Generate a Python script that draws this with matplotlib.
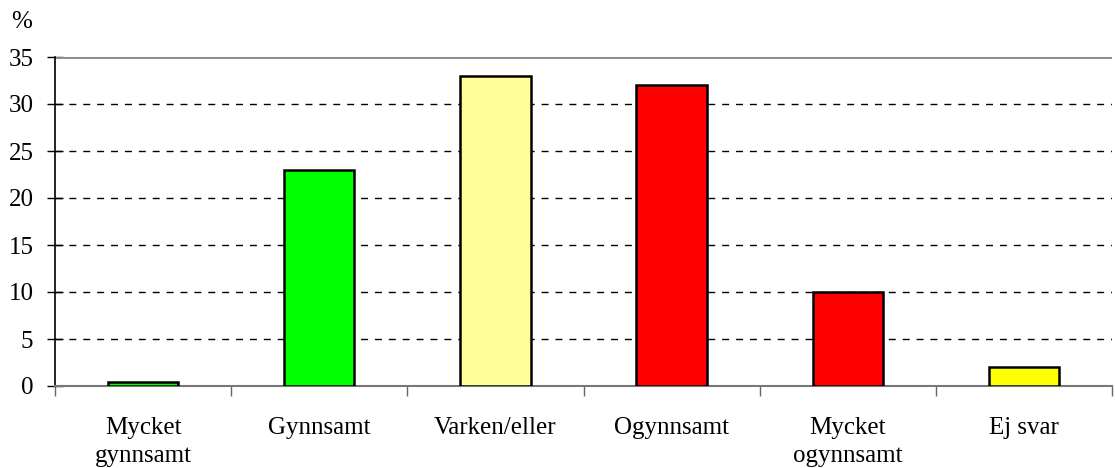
import matplotlib
matplotlib.use("Agg")
import matplotlib.pyplot as plt
import numpy as np

categories = ["Mycket\ngynnsamt", "Gynnsamt", "Varken/eller", "Ogynnsamt", "Mycket\nogynnsamt", "Ej svar"]
values = [0.4, 23, 33, 32, 10, 2]
colors = ["#00ff00", "#00ff00", "#ffff99", "#ff0000", "#ff0000", "#ffff00"]
yticks = [0, 5, 10, 15, 20, 25, 30, 35]

plt.rcParams['font.family'] = ['Liberation Serif', 'DejaVu Serif']

fig = plt.figure(figsize=(11.15, 4.68), dpi=100)
ax = fig.add_axes([55/1115, 1 - 386/468, (1112-55)/1115, (386-57)/468])

x = np.arange(len(categories))
ax.bar(x, values, width=0.4, color=colors, edgecolor="black", linewidth=1.8, zorder=3)

ax.set_xlim(-0.5, len(categories) - 0.5)
ax.set_ylim(0, 35)
ax.set_yticks(yticks)
ax.set_yticklabels([str(v) for v in yticks], fontsize=18)
for v in yticks[1:-1]:
    ax.axhline(v, color="black", linestyle=(0, (5, 5)), linewidth=1, zorder=1)
ax.axhline(35, color="#888888", linewidth=2, zorder=2)

ax.set_xticks(np.arange(len(categories) + 1) - 0.5, minor=True)
ax.set_xticks(x)
ax.set_xticklabels(categories, fontsize=18, linespacing=1.4)
ax.tick_params(axis="x", which="major", length=0, pad=22)
ax.tick_params(axis="x", which="minor", length=7, color="#666666", width=1)
ax.tick_params(axis="y", direction="inout", length=11, width=1, color="black", pad=10)

for s in ["top", "right"]:
    ax.spines[s].set_visible(False)
ax.spines["bottom"].set_color("#777777")
ax.spines["bottom"].set_linewidth(1.5)
ax.spines["left"].set_color("black")
ax.spines["left"].set_linewidth(1.2)

fig.text(11/1115, 1 - 22/468, "%", fontsize=18, va="center", ha="left")

fig.savefig("out.png", dpi=100)
